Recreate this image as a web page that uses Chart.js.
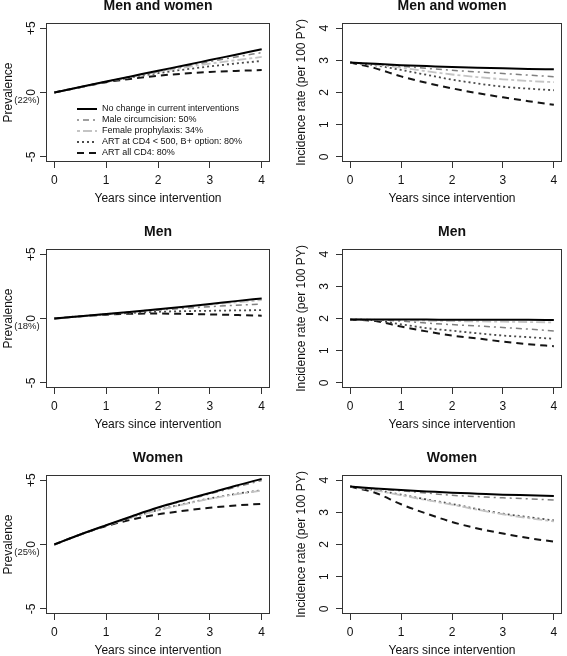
<!DOCTYPE html>
<html>
<head>
<meta charset="utf-8">
<script src="https://cdn.jsdelivr.net/npm/chart.js@4.4.0/dist/chart.umd.min.js"></script>
<style>
body { margin: 0; background: #fff; width: 567px; height: 656px; overflow: hidden; position: relative; }
canvas { position: absolute; }
</style>
</head>
<body>
<canvas id="prevBoth" width="283" height="226" style="left:0;top:-8px"></canvas>
<canvas id="incBoth" width="283" height="226" style="left:284px;top:-8px"></canvas>
<canvas id="prevMen" width="283" height="226" style="left:0;top:218px"></canvas>
<canvas id="incMen" width="283" height="226" style="left:284px;top:218px"></canvas>
<canvas id="prevWomen" width="283" height="226" style="left:0;top:444px"></canvas>
<canvas id="incWomen" width="283" height="226" style="left:284px;top:444px"></canvas>
<script>
// data
const years = [0, 0.5, 1, 1.5, 2, 2.5, 3, 3.5, 4];
const seriesNames = ["No change in current interventions", "Male circumcision: 50%", "Female prophylaxis: 34%",
    "ART at CD4 < 500, B+ option: 80%", "ART all CD4: 80%"];
const xTicks = [0, 1, 2, 3, 4];
const prevTicks = [-5, 0, 5];
const prevTickLabels = ["-5", "0", "+5"];
const incTicks = [0, 1, 2, 3, 4];

// change in prevalence (percentage points), one row per series
const prevBoth = [
    [0, 0.42, 0.85, 1.27, 1.69, 2.10, 2.52, 2.94, 3.36],
    [0, 0.42, 0.84, 1.25, 1.65, 2.03, 2.40, 2.76, 3.10],
    [0, 0.42, 0.83, 1.23, 1.60, 1.94, 2.24, 2.51, 2.76],
    [0, 0.42, 0.82, 1.18, 1.50, 1.78, 2.03, 2.25, 2.45],
    [0, 0.41, 0.80, 1.07, 1.30, 1.47, 1.60, 1.68, 1.74]
];
const prevMen = [
    [0, 0.17, 0.35, 0.53, 0.72, 0.92, 1.13, 1.35, 1.56],
    [0, 0.17, 0.34, 0.50, 0.65, 0.79, 0.92, 1.03, 1.13],
    [0, 0.17, 0.35, 0.52, 0.70, 0.88, 1.07, 1.25, 1.43],
    [0, 0.17, 0.32, 0.44, 0.52, 0.57, 0.60, 0.63, 0.65],
    [0, 0.17, 0.30, 0.37, 0.38, 0.36, 0.32, 0.27, 0.22]
];
const prevWomen = [
    [0, 0.78, 1.50, 2.20, 2.87, 3.45, 4.00, 4.57, 5.10],
    [0, 0.78, 1.50, 2.19, 2.84, 3.40, 3.93, 4.46, 4.98],
    [0, 0.77, 1.47, 2.10, 2.66, 3.12, 3.55, 3.90, 4.18],
    [0, 0.77, 1.47, 2.11, 2.68, 3.15, 3.58, 3.93, 4.22],
    [0, 0.77, 1.43, 1.95, 2.34, 2.62, 2.86, 3.03, 3.16]
];

// incidence rate per 100 PY
const incBoth = [
    [2.93, 2.89, 2.85, 2.82, 2.79, 2.77, 2.75, 2.73, 2.72],
    [2.93, 2.88, 2.82, 2.75, 2.69, 2.64, 2.59, 2.54, 2.49],
    [2.93, 2.86, 2.77, 2.66, 2.56, 2.48, 2.41, 2.36, 2.32],
    [2.93, 2.84, 2.70, 2.55, 2.40, 2.28, 2.18, 2.12, 2.07],
    [2.93, 2.75, 2.50, 2.30, 2.13, 1.98, 1.85, 1.73, 1.62]
];
const incMen = [
    [1.97, 1.97, 1.97, 1.97, 1.96, 1.96, 1.96, 1.96, 1.95],
    [1.97, 1.96, 1.92, 1.86, 1.81, 1.77, 1.72, 1.67, 1.61],
    [1.97, 1.96, 1.95, 1.93, 1.92, 1.91, 1.90, 1.89, 1.88],
    [1.97, 1.94, 1.82, 1.70, 1.62, 1.54, 1.47, 1.42, 1.37],
    [1.97, 1.92, 1.75, 1.60, 1.47, 1.38, 1.28, 1.20, 1.14]
];
const incWomen = [
    [3.80, 3.74, 3.69, 3.65, 3.61, 3.58, 3.55, 3.53, 3.51],
    [3.80, 3.73, 3.67, 3.60, 3.53, 3.49, 3.45, 3.42, 3.38],
    [3.80, 3.68, 3.53, 3.38, 3.24, 3.08, 2.94, 2.82, 2.72],
    [3.80, 3.69, 3.55, 3.40, 3.26, 3.10, 2.96, 2.85, 2.75],
    [3.80, 3.60, 3.25, 2.96, 2.70, 2.50, 2.34, 2.20, 2.09]
];

// line styles (R-like lty)
const lineColors = ["#000000", "#808080", "#c4c4c4", "#4a4a4a", "#141414"];
const lineWidths = [2, 1.5, 1.8, 1.8, 2];
const lineDashes = [[], [2, 4, 6, 4], [3, 3, 9, 3], [2, 3], [7, 5]];

const FONT = '"Liberation Sans", Arial, sans-serif';

// draws box, titles, rotated y labels, note and legend like base R graphics
const rFrame = {
    id: "rframe",
    afterDraw(chart, args, o) {
        const ctx = chart.ctx, a = chart.chartArea, ys = chart.scales.y;
        const cx = (a.left + a.right) / 2, cy = (a.top + a.bottom) / 2;
        ctx.save();
        ctx.strokeStyle = "#333";
        ctx.lineWidth = 1;
        ctx.setLineDash([]);
        ctx.strokeRect(Math.round(a.left) + 0.5, Math.round(a.top) + 0.5,
            Math.round(a.width) - 1, Math.round(a.height) - 1);

        ctx.fillStyle = "#111";
        ctx.textAlign = "center";
        ctx.textBaseline = "middle";
        ctx.font = "bold 14px " + FONT;
        ctx.fillText(o.title, cx, 14);

        ctx.font = "12px " + FONT;
        ctx.fillText("Years since intervention", cx, 207);

        ctx.save();
        ctx.translate(o.yTitleX, cy);
        ctx.rotate(-Math.PI / 2);
        ctx.fillText(o.yTitle, 0, 0);
        ctx.restore();

        ys.ticks.forEach((t, i) => {
            const p = ys.getPixelForValue(t.value);
            ctx.save();
            ctx.translate(o.yTickX, p);
            ctx.rotate(-Math.PI / 2);
            ctx.fillText(o.yLabels[i], 0, 0);
            ctx.restore();
        });

        if (o.note) {
            ctx.font = "9.5px " + FONT;
            ctx.fillStyle = "#222";
            ctx.fillText(o.note, 27, ys.getPixelForValue(0) + 8);
        }

        if (o.legend) {
            ctx.font = "9px " + FONT;
            ctx.textAlign = "left";
            chart.data.datasets.forEach((ds, i) => {
                const y = 117 + i * 11;
                ctx.strokeStyle = ds.borderColor;
                ctx.lineWidth = ds.borderWidth;
                ctx.setLineDash(ds.borderDash);
                ctx.beginPath();
                ctx.moveTo(77, y);
                ctx.lineTo(97, y);
                ctx.stroke();
                ctx.fillStyle = "#111";
                ctx.fillText(ds.label, 102, y);
            });
        }
        ctx.restore();
    }
};

function makePanel(id, rows, kind, title, note, legend) {
    const prev = kind === "prev";
    new Chart(document.getElementById(id), {
        type: "line",
        data: {
            datasets: rows.map((vals, i) => ({
                label: seriesNames[i],
                data: vals.map((v, j) => ({ x: years[j], y: v })),
                borderColor: lineColors[i],
                borderWidth: lineWidths[i],
                borderDash: lineDashes[i],
                pointRadius: 0,
                cubicInterpolationMode: "monotone",
                fill: false
            }))
        },
        options: {
            responsive: false,
            animation: false,
            events: [],
            layout: { padding: { top: 31, right: prev ? 13 : 5, left: 0, bottom: 0 } },
            plugins: {
                legend: { display: false },
                tooltip: { enabled: false },
                rframe: {
                    title: title,
                    yTitle: prev ? "Prevalence" : "Incidence rate (per 100 PY)",
                    yTitleX: prev ? 9 : 18,
                    yTickX: prev ? 32 : 41,
                    yLabels: prev ? prevTickLabels : incTicks.map(String),
                    note: note,
                    legend: legend
                }
            },
            scales: {
                x: {
                    type: "linear",
                    min: -0.16,
                    max: 4.16,
                    afterBuildTicks: s => { s.ticks = xTicks.map(v => ({ value: v })); },
                    afterFit: s => { s.height = 56; },
                    grid: { drawOnChartArea: false, tickLength: 6, color: "#333" },
                    border: { display: false },
                    ticks: { color: "#111", font: { family: FONT, size: 12 }, padding: 5, maxRotation: 0 }
                },
                y: {
                    type: "linear",
                    min: prev ? -5.4 : -0.16,
                    max: prev ? 5.4 : 4.16,
                    afterBuildTicks: s => { s.ticks = (prev ? prevTicks : incTicks).map(v => ({ value: v })); },
                    afterFit: s => { s.width = prev ? 46 : 58; },
                    grid: { drawOnChartArea: false, tickLength: 6, color: "#333" },
                    border: { display: false },
                    ticks: { display: false }
                }
            }
        },
        plugins: [rFrame]
    });
}

makePanel("prevBoth", prevBoth, "prev", "Men and women", "(22%)", true);
makePanel("incBoth", incBoth, "inc", "Men and women", null, false);
makePanel("prevMen", prevMen, "prev", "Men", "(18%)", false);
makePanel("incMen", incMen, "inc", "Men", null, false);
makePanel("prevWomen", prevWomen, "prev", "Women", "(25%)", false);
makePanel("incWomen", incWomen, "inc", "Women", null, false);
</script>
</body>
</html>
